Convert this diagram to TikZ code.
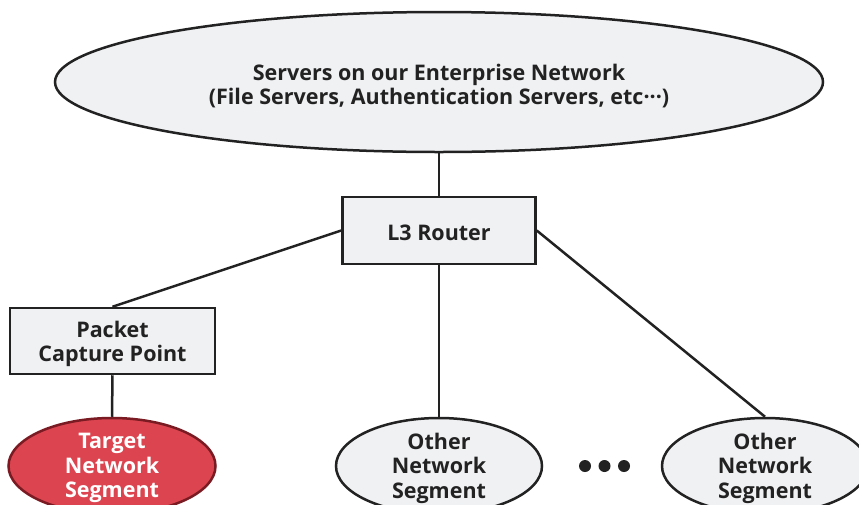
\documentclass[tikz,border=0pt]{standalone}
\usepackage{fontspec}
\setmainfont{Open Sans}
\usetikzlibrary{shapes.geometric}
\definecolor{boxfill}{HTML}{F0F1F3}
\definecolor{linec}{HTML}{222222}
\definecolor{redfill}{HTML}{DC4550}
\definecolor{redline}{HTML}{7A1A22}
\tikzset{
  conn/.style={draw=linec, line width=2.5pt},
  ovalgray/.style={ellipse, draw=linec, line width=2.5pt, fill=boxfill, inner sep=0pt},
  ovalred/.style={ellipse, draw=redline, line width=2.5pt, fill=redfill, inner sep=0pt},
  boxnode/.style={rectangle, draw=linec, line width=2.5pt, fill=boxfill, inner sep=0pt},
  lbl/.style={align=center, text=linec, font=\fontsize{21.5}{24.5}\selectfont\bfseries},
  lblw/.style={lbl, text=white},
  dotn/.style={circle, fill=linec, inner sep=0pt, minimum size=12pt}
}
\begin{document}
\begin{tikzpicture}[x=1pt,y=-1pt]
\clip (0,0) rectangle (859,504);
\fill[white] (0,0) rectangle (859,504);
\node[ovalgray, minimum width=768pt, minimum height=140pt] (srv) at (439,82) {};
\node[lbl] (srvt) at (439,86) {Servers on our Enterprise Network\\(File Servers, Authentication Servers, etc···)};
\node[boxnode, minimum width=193pt, minimum height=67pt] (rtr) at (439,230.5) {};
\node[lbl] (rtrt) at (439,232.5) {L3 Router};
\node[boxnode, minimum width=205pt, minimum height=66pt] (pcp) at (112.5,341) {};
\node[lbl] (pcpt) at (112.5,344) {Packet\\Capture Point};
\node[ovalred, minimum width=207pt, minimum height=96pt] (tgt) at (112,466) {};
\node[lblw] (tgtt) at (112,468) {Target\\Network\\Segment};
\node[ovalgray, minimum width=206pt, minimum height=96pt] (oth1) at (439,466) {};
\node[lbl] (oth1t) at (439,468) {Other\\Network\\Segment};
\node[ovalgray, minimum width=206pt, minimum height=96pt] (oth2) at (765,466) {};
\node[lbl] (oth2t) at (765,468) {Other\\Network\\Segment};
\node[dotn] (d1) at (585,466) {};
\node[dotn] (d2) at (604.5,466) {};
\node[dotn] (d3) at (624,466) {};
\draw[conn] (srv.south) -- (rtr.north);
\draw[conn] (rtr.west) -- (pcp.north);
\draw[conn] (pcp.south) -- (tgt.north);
\draw[conn] (rtr.south) -- (oth1.north);
\draw[conn] (rtr.east) -- (oth2.north);
\end{tikzpicture}
\end{document}
